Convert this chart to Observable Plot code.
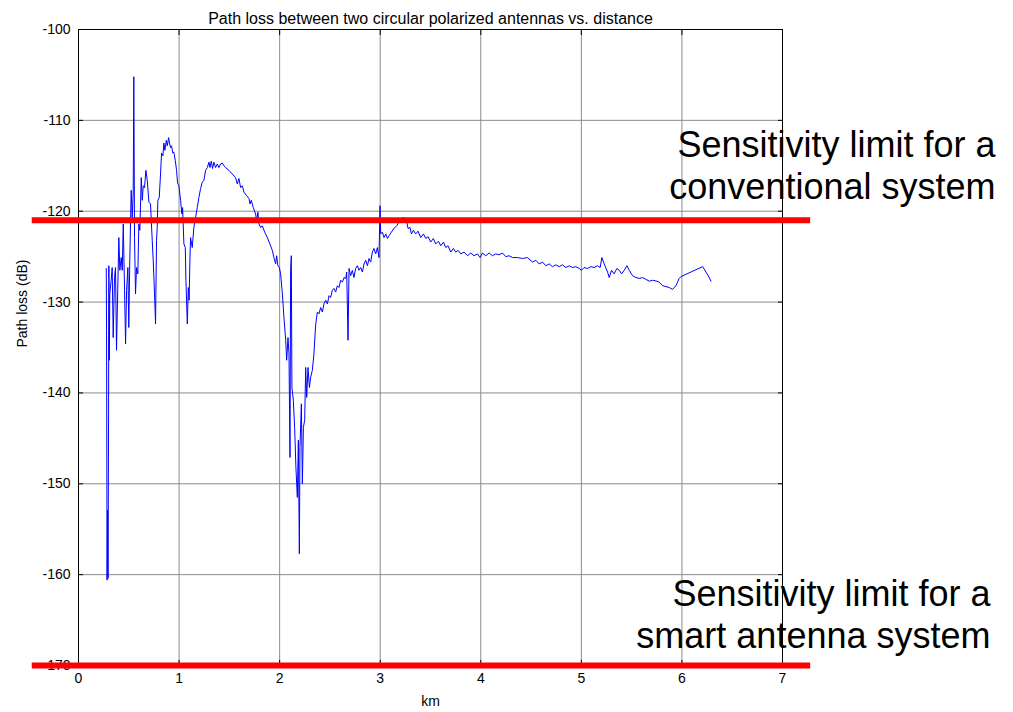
<!DOCTYPE html>
<html>
<head>
<meta charset="utf-8">
<script src="https://cdn.jsdelivr.net/npm/d3@7"></script>
<script src="https://cdn.jsdelivr.net/npm/@observablehq/plot@0.6"></script>
<style>
  html, body { margin: 0; padding: 0; background: #fff; }
</style>
</head>
<body>
<div id="chart"></div>
<script>
const chartTitle = "Path loss between two circular polarized antennas vs. distance";
const xLabel = "km";
const yLabel = "Path loss (dB)";
const xTicks = [0, 1, 2, 3, 4, 5, 6, 7];
const yTicks = [-100, -110, -120, -130, -140, -150, -160, -170];

// [distance (km), path loss (dB)]
const pathLossSamples = [
  [0.276, -126.3], [0.279, -133.1], [0.284, -160.6], [0.289, -152.9], [0.294, -160.4],
  [0.299, -142.2], [0.302, -126.0], [0.306, -136.4], [0.311, -129.1], [0.325, -127.6],
  [0.335, -126.2], [0.345, -133.9], [0.358, -127.3], [0.368, -126.2], [0.378, -135.3],
  [0.401, -122.9], [0.411, -126.5], [0.425, -125.1], [0.435, -126.5], [0.445, -121.4],
  [0.458, -128.7], [0.468, -134.6], [0.478, -128.7], [0.491, -126.2], [0.500, -132.8],
  [0.510, -125.4], [0.524, -117.7], [0.534, -120.7], [0.544, -118.0], [0.550, -105.2],
  [0.557, -122.9], [0.567, -129.1], [0.577, -126.2], [0.590, -126.9], [0.600, -121.4],
  [0.610, -122.1], [0.624, -116.3], [0.634, -118.8], [0.644, -117.2], [0.657, -117.4],
  [0.670, -115.5], [0.684, -116.6], [0.700, -119.0], [0.716, -119.2], [0.733, -123.2],
  [0.743, -125.4], [0.756, -129.1], [0.766, -132.4], [0.776, -123.2], [0.783, -121.8],
  [0.789, -118.8], [0.803, -118.5], [0.816, -115.8], [0.826, -113.6], [0.839, -113.9],
  [0.849, -112.5], [0.859, -113.3], [0.873, -112.2], [0.883, -112.8], [0.896, -111.9],
  [0.905, -112.5], [0.915, -113.0], [0.925, -112.8], [0.938, -113.6], [0.948, -113.5],
  [0.962, -114.4], [0.975, -115.5], [0.985, -116.9], [0.998, -117.2], [1.015, -118.8],
  [1.028, -120.3], [1.035, -119.6], [1.048, -123.6], [1.062, -124.0], [1.068, -127.6],
  [1.082, -132.4], [1.092, -128.4], [1.100, -129.8], [1.107, -125.8], [1.114, -122.9],
  [1.131, -124.0], [1.147, -121.8], [1.164, -120.7], [1.181, -119.6], [1.197, -118.5],
  [1.214, -117.5], [1.231, -116.8], [1.247, -116.6], [1.264, -115.5], [1.281, -115.2],
  [1.297, -114.6], [1.307, -115.2], [1.320, -114.5], [1.333, -115.3], [1.346, -114.6],
  [1.363, -115.2], [1.380, -114.8], [1.396, -115.2], [1.413, -114.8], [1.430, -114.7],
  [1.446, -115.0], [1.463, -115.2], [1.496, -115.5], [1.529, -115.9], [1.562, -116.3],
  [1.579, -117.0], [1.595, -116.4], [1.612, -117.4], [1.629, -117.2], [1.645, -117.9],
  [1.672, -118.3], [1.695, -118.6], [1.705, -119.2], [1.718, -118.8], [1.738, -119.6],
  [1.761, -120.3], [1.771, -121.0], [1.784, -120.1], [1.794, -121.4], [1.811, -121.8],
  [1.828, -121.6], [1.851, -122.3], [1.878, -122.9], [1.903, -123.6], [1.927, -124.3],
  [1.943, -125.1], [1.960, -125.8], [1.970, -124.9], [1.983, -126.0], [1.997, -126.2],
  [2.010, -126.9], [2.027, -129.1], [2.043, -131.7], [2.060, -134.2], [2.070, -136.4],
  [2.083, -133.9], [2.093, -135.7], [2.103, -147.1], [2.109, -126.5], [2.116, -124.9],
  [2.122, -139.4], [2.136, -140.8], [2.149, -143.8], [2.162, -148.2], [2.176, -151.5],
  [2.186, -145.2], [2.196, -157.7], [2.202, -146.0], [2.216, -141.2], [2.226, -150.0],
  [2.236, -143.8], [2.249, -143.0], [2.259, -137.2], [2.269, -140.5], [2.282, -137.2],
  [2.296, -139.4], [2.308, -138.3], [2.325, -137.5], [2.341, -135.7], [2.358, -132.5],
  [2.375, -131.1], [2.391, -131.3], [2.408, -130.6], [2.425, -131.1], [2.441, -130.2],
  [2.458, -129.8], [2.475, -130.2], [2.491, -129.3], [2.507, -129.5], [2.524, -128.7],
  [2.540, -128.5], [2.557, -128.9], [2.574, -128.2], [2.590, -128.4], [2.607, -127.6],
  [2.624, -127.8], [2.640, -127.3], [2.657, -127.4], [2.667, -126.7], [2.680, -134.2],
  [2.690, -126.3], [2.706, -127.1], [2.723, -126.5], [2.739, -127.3], [2.756, -126.3],
  [2.773, -126.0], [2.789, -126.5], [2.806, -126.2], [2.823, -126.7], [2.839, -125.8],
  [2.856, -125.4], [2.873, -126.0], [2.889, -125.2], [2.905, -125.6], [2.922, -124.5],
  [2.938, -124.1], [2.955, -124.7], [2.972, -124.0], [2.988, -125.1], [2.998, -119.4],
  [3.005, -122.5], [3.022, -122.3], [3.038, -122.9], [3.055, -122.5], [3.072, -123.0],
  [3.088, -122.7], [3.111, -122.3], [3.137, -121.9], [3.164, -121.6], [3.187, -121.2],
  [3.211, -120.8], [3.237, -120.7], [3.264, -121.2], [3.277, -121.9], [3.297, -121.8],
  [3.310, -122.5], [3.330, -122.1], [3.353, -122.5], [3.376, -122.2], [3.403, -122.9],
  [3.430, -122.5], [3.453, -123.0], [3.476, -122.8], [3.502, -123.4], [3.529, -123.0],
  [3.552, -123.6], [3.579, -123.3], [3.602, -123.8], [3.629, -123.4], [3.652, -124.0],
  [3.675, -123.8], [3.701, -124.5], [3.728, -124.1], [3.751, -124.5], [3.774, -124.3],
  [3.801, -124.7], [3.834, -124.5], [3.868, -124.9], [3.900, -124.6], [3.933, -124.9],
  [3.967, -124.7], [3.993, -125.1], [4.017, -124.6], [4.050, -124.9], [4.083, -124.6],
  [4.116, -124.9], [4.149, -124.7], [4.182, -124.8], [4.216, -124.6], [4.249, -125.0],
  [4.282, -124.9], [4.315, -125.1], [4.365, -125.1], [4.415, -125.2], [4.465, -125.1],
  [4.514, -125.6], [4.547, -125.4], [4.580, -125.8], [4.614, -125.6], [4.647, -126.0],
  [4.680, -125.8], [4.713, -126.1], [4.746, -125.9], [4.779, -126.1], [4.813, -125.9],
  [4.846, -126.2], [4.879, -126.0], [4.912, -126.2], [4.945, -126.1], [4.978, -126.3],
  [5.001, -126.5], [5.027, -126.2], [5.061, -126.3], [5.095, -126.1], [5.127, -126.2],
  [5.161, -126.0], [5.187, -126.2], [5.204, -125.1], [5.227, -125.8], [5.261, -126.7],
  [5.277, -127.3], [5.300, -126.5], [5.326, -126.9], [5.353, -126.3], [5.376, -126.5],
  [5.400, -126.9], [5.426, -126.5], [5.453, -126.0], [5.476, -126.5], [5.509, -127.1],
  [5.542, -127.3], [5.575, -127.4], [5.609, -127.3], [5.642, -127.5], [5.675, -127.7],
  [5.708, -127.6], [5.751, -127.7], [5.774, -127.8], [5.808, -128.2], [5.841, -128.3],
  [5.874, -128.4], [5.907, -128.6], [5.940, -128.2], [5.973, -127.4], [5.990, -127.2],
  [6.206, -126.1], [6.239, -126.7], [6.262, -127.1], [6.289, -127.7]
];

const limitLevels = [-121, -170];
const limitSpanKm = [-0.46, 7.28];
const limitNotes = [
  "Sensitivity limit for a\nconventional system",
  "Sensitivity limit for a\nsmart antenna system"
];

const trace = pathLossSamples.map(([km, db]) => ({km, db}));
const fmt = d => String(d);
const blank = () => "";

const chart = Plot.plot({
  width: 1013,
  height: 712,
  marginLeft: 78,
  marginRight: 231,
  marginTop: 29,
  marginBottom: 47,
  style: {
    fontFamily: "Arial, 'Liberation Sans', Helvetica, sans-serif",
    fontSize: "14px",
    background: "#fff",
    overflow: "visible",
    color: "#000"
  },
  x: {domain: [0, 7]},
  y: {domain: [-170, -100]},
  marks: [
    Plot.gridX(xTicks, {stroke: "#8c8c8c", strokeOpacity: 1}),
    Plot.gridY(yTicks, {stroke: "#8c8c8c", strokeOpacity: 1}),
    Plot.frame({stroke: "#000", strokeWidth: 1}),
    Plot.axisX(xTicks, {anchor: "bottom", tickSize: 0, tickPadding: 8, tickFormat: fmt, label: null, fontSize: 14}),
    Plot.axisY(yTicks, {anchor: "left", tickSize: 0, tickPadding: 8, tickFormat: fmt, label: null, fontSize: 14}),
    Plot.axisX(xTicks, {anchor: "bottom", tickSize: -5, tickFormat: blank, label: null}),
    Plot.axisX(xTicks, {anchor: "top", tickSize: -5, tickFormat: blank, label: null}),
    Plot.axisY(yTicks, {anchor: "left", tickSize: -5, tickFormat: blank, label: null}),
    Plot.axisY(yTicks, {anchor: "right", tickSize: -5, tickFormat: blank, label: null}),
    Plot.line(trace, {x: "km", y: "db", stroke: "#0000ff", strokeWidth: 1}),
    Plot.ruleY(limitLevels, {x1: limitSpanKm[0], x2: limitSpanKm[1], stroke: "#ff0000", strokeWidth: 6}),
    Plot.text([limitNotes[0]], {frameAnchor: "top-right", dx: 213, dy: 135.5, textAnchor: "end", lineAnchor: "middle", fontSize: 36, lineHeight: 1.167, fill: "#000"}),
    Plot.text([limitNotes[1]], {frameAnchor: "bottom-right", dx: 208, dy: -51.5, textAnchor: "end", lineAnchor: "middle", fontSize: 36, lineHeight: 1.167, fill: "#000"}),
    Plot.text([chartTitle], {frameAnchor: "top", dy: -17, fontSize: 16, fill: "#000"}),
    Plot.text([xLabel], {frameAnchor: "bottom", dy: 40, fontSize: 14, fill: "#000"}),
    Plot.text([yLabel], {frameAnchor: "left", dx: -56, rotate: -90, fontSize: 14, fill: "#000"})
  ]
});
document.getElementById("chart").appendChild(chart);
</script>
</body>
</html>
